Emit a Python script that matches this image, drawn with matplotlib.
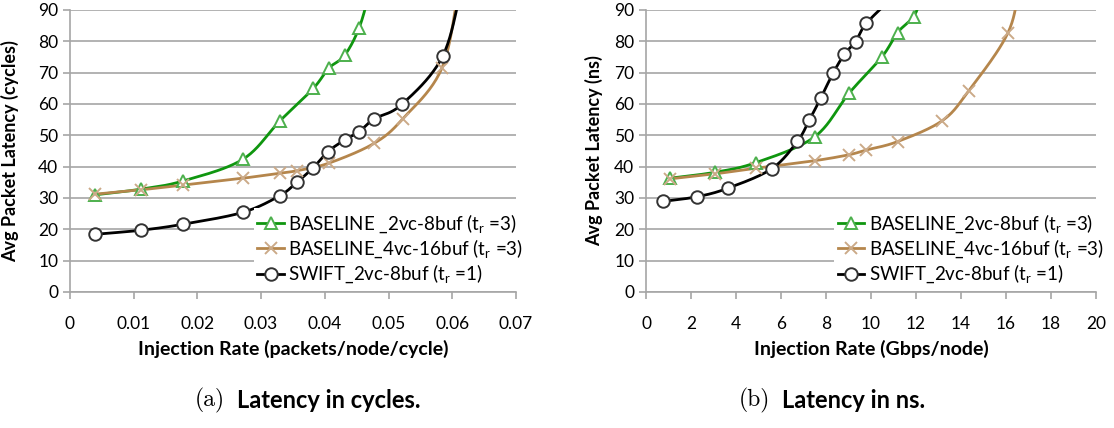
import numpy as np
import matplotlib
matplotlib.use("Agg")
import matplotlib.pyplot as plt

plt.rcParams['font.family'] = ['Lato', 'DejaVu Sans']
plt.rcParams['mathtext.fontset'] = 'custom'
plt.rcParams['mathtext.rm'] = 'Lato'

# (a) latency in cycles, x = packets/node/cycle
base2_cyc_x = [0.0039, 0.0111, 0.0177, 0.0271, 0.0329, 0.0382, 0.0406, 0.0431, 0.0454, 0.0472]
base2_cyc_y = [31.0, 32.8, 35.4, 42.3, 54.5, 65.0, 71.4, 75.5, 84.4, 97.0]
base4_cyc_x = [0.0039, 0.0111, 0.0177, 0.0271, 0.0329, 0.0356, 0.0406, 0.0477, 0.0522, 0.0584, 0.0613]
base4_cyc_y = [31.2, 32.6, 34.1, 36.3, 37.9, 38.7, 41.1, 47.4, 55.2, 71.6, 100.0]
swift_cyc_x = [0.0039, 0.0111, 0.0177, 0.0271, 0.0329, 0.0356, 0.0382, 0.0405, 0.0431, 0.0454,
               0.0477, 0.0521, 0.0585, 0.0618]
swift_cyc_y = [18.4, 19.7, 21.6, 25.4, 30.7, 35.0, 39.7, 44.8, 48.5, 51.2,
               55.2, 59.9, 75.3, 100.0]

# (b) latency in ns, x = Gbps/node
base2_ns_x = [1.06, 3.06, 4.89, 7.49, 9.02, 10.49, 11.18, 11.89, 12.25]
base2_ns_y = [36.3, 38.2, 41.3, 49.5, 63.4, 75.1, 82.8, 87.9, 94.0]
base4_ns_x = [1.06, 3.06, 4.89, 7.49, 9.02, 9.78, 11.18, 13.17, 14.35, 16.09, 16.65]
base4_ns_y = [36.1, 37.7, 39.5, 41.9, 43.8, 45.3, 48.0, 54.7, 64.3, 82.8, 100.0]
swift_ns_x = [0.74, 2.27, 3.63, 5.58, 6.73, 7.26, 7.76, 8.31, 8.82, 9.31, 9.79, 11.1]
swift_ns_y = [28.9, 30.4, 33.1, 39.3, 48.1, 54.9, 61.8, 69.8, 75.9, 79.9, 85.7, 95.0]

yticks = [0, 10, 20, 30, 40, 50, 60, 70, 80, 90]
xticks_cyc = [0, 0.01, 0.02, 0.03, 0.04, 0.05, 0.06, 0.07]
xticklabels_cyc = ['0', '0.01', '0.02', '0.03', '0.04', '0.05', '0.06', '0.07']
xticks_ns = [0, 2, 4, 6, 8, 10, 12, 14, 16, 18, 20]

green, green_m = '#0F960F', '#4DB04D'
brown, brown_m = '#B5864C', '#CBAA88'


def smooth(x, y, xr, yr, n=24):
    # catmull-rom through the points, like excel "smoothed line"
    p = np.column_stack([np.asarray(x) / xr, np.asarray(y) / yr])
    p = np.vstack([2 * p[0] - p[1], p, 2 * p[-1] - p[-2]])
    out = []
    t = np.linspace(0, 1, n)[:, None]
    for i in range(1, len(p) - 2):
        p0, p1, p2, p3 = p[i - 1], p[i], p[i + 1], p[i + 2]
        seg = 0.5 * ((2 * p1) + (-p0 + p2) * t + (2 * p0 - 5 * p1 + 4 * p2 - p3) * t ** 2
                     + (-p0 + 3 * p1 - 3 * p2 + p3) * t ** 3)
        out.append(seg)
    out = np.vstack(out)
    return out[:, 0] * xr, out[:, 1] * yr


def draw(ax, series, xmax, labels, xticks, xticklabels, ylabel, xlabel):
    for (x, y, c, mc, mk, ms), lab in zip(series, labels):
        sx, sy = smooth(x, y, xmax, 90)
        ax.plot(sx, sy, color=c, lw=2, zorder=3)
        ax.plot(x, y, ls='none', marker=mk, ms=ms, mfc='white' if mk != 'x' else mc,
                mec=mc, mew=1.4, zorder=4)
        ax.plot([], [], color=c, lw=2, marker=mk, ms=ms,
                mfc='white' if mk != 'x' else mc, mec=mc, mew=1.4, label=lab)
    ax.set_xlim(0, xmax)
    ax.set_ylim(0, 90)
    ax.set_yticks(yticks)
    ax.set_xticks(xticks)
    ax.set_xticklabels(xticklabels)
    ax.grid(axis='y', color='#A6A6A6', lw=1.2)
    ax.set_axisbelow(True)
    for s in ['top', 'right']:
        ax.spines[s].set_visible(False)
    for s in ['left', 'bottom']:
        ax.spines[s].set_color('#A6A6A6')
        ax.spines[s].set_linewidth(1.2)
    ax.tick_params(axis='both', colors='#A6A6A6', labelcolor='black', labelsize=12.5,
                   length=5, width=1.2)
    ax.tick_params(axis='x', pad=12)
    ax.set_ylabel(ylabel, fontsize=13, fontweight='bold')
    ax.set_xlabel(xlabel, fontsize=14, fontweight='bold', labelpad=6)
    leg = ax.legend(loc='lower right', bbox_to_anchor=(1.025, 0.01), fontsize=13.5,
                    frameon=True, fancybox=False, edgecolor='none', facecolor='white',
                    framealpha=1, handlelength=1.4, handletextpad=0.25,
                    labelspacing=0.15, borderpad=0.2, borderaxespad=0)
    leg.set_zorder(5)
    return leg


fig = plt.figure(figsize=(11.14, 4.28), dpi=100)
ax1 = fig.add_axes([0.0628, 0.3178, 0.4004, 0.6589])
ax2 = fig.add_axes([0.5799, 0.3178, 0.4040, 0.6589])

lab1 = ['BASELINE _2vc-8buf (t$_\\mathregular{r}$ =3)',
        'BASELINE_4vc-16buf (t$_\\mathregular{r}$ =3)',
        'SWIFT_2vc-8buf (t$_\\mathregular{r}$ =1)']
lab2 = ['BASELINE_2vc-8buf (t$_\\mathregular{r}$ =3)',
        'BASELINE_4vc-16buf (t$_\\mathregular{r}$ =3)',
        'SWIFT_2vc-8buf (t$_\\mathregular{r}$ =1)']

draw(ax1, [(base2_cyc_x, base2_cyc_y, green, green_m, '^', 8),
           (base4_cyc_x, base4_cyc_y, brown, brown_m, 'x', 9),
           (swift_cyc_x, swift_cyc_y, 'black', '#333333', 'o', 9)],
     0.07, lab1, xticks_cyc, xticklabels_cyc,
     'Avg Packet Latency (cycles)', 'Injection Rate (packets/node/cycle)')
draw(ax2, [(base2_ns_x, base2_ns_y, green, green_m, '^', 8),
           (base4_ns_x, base4_ns_y, brown, brown_m, 'x', 9),
           (swift_ns_x, swift_ns_y, 'black', '#333333', 'o', 9)],
     20, lab2, xticks_ns, [str(v) for v in xticks_ns],
     'Avg Packet Latency (ns)', 'Injection Rate (Gbps/node)')

ax1.yaxis.set_label_coords(-0.115, 0.5)
ax2.yaxis.set_label_coords(-0.095, 0.5)

# captions
cy = 1 - 400 / 428
fig.text(225 / 1114, cy, '(a)', family='cmr10', fontsize=17, ha='right', va='center')
fig.text(237 / 1114, cy, 'Latency in cycles.', fontsize=17, fontweight='bold',
         ha='left', va='center')
fig.text(770 / 1114, cy, '(b)', family='cmr10', fontsize=17, ha='right', va='center')
fig.text(782 / 1114, cy, 'Latency in ns.', fontsize=17, fontweight='bold',
         ha='left', va='center')

fig.savefig('out.png', dpi=100)
